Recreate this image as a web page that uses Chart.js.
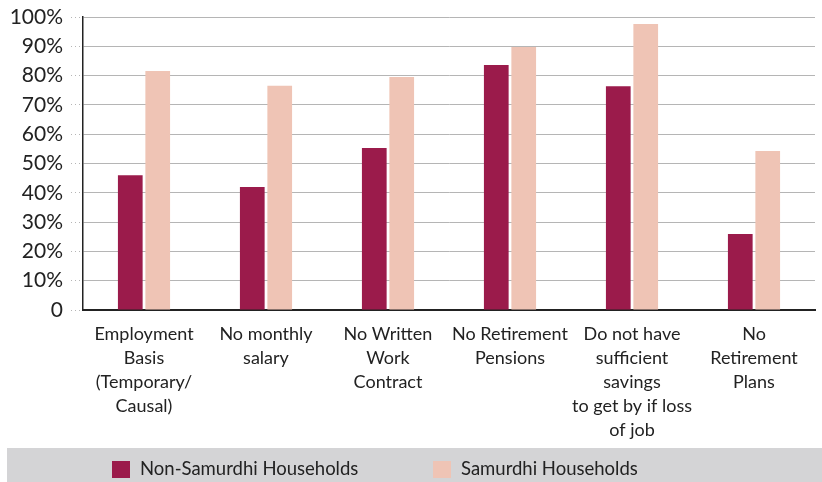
<!DOCTYPE html>
<html>
<head>
<meta charset="utf-8">
<script src="https://cdn.jsdelivr.net/npm/chart.js@4"></script>
<style>
  html, body { margin: 0; padding: 0; background: #fff; }
  #wrap { position: relative; width: 822px; height: 482px; }
</style>
</head>
<body>
<div id="wrap"><canvas id="chart" width="822" height="482"></canvas></div>
<script>
const categories = [
  ['Employment', 'Basis', '(Temporary/', 'Causal)'],
  ['No monthly', 'salary'],
  ['No Written', 'Work', 'Contract'],
  ['No Retirement', 'Pensions'],
  ['Do not have', 'sufficient', 'savings', 'to get by if loss', 'of job'],
  ['No', 'Retirement', 'Plans']
];
const nonSamurdhi = [46, 42, 55.3, 83.6, 76.4, 25.9];
const samurdhi = [81.6, 76.5, 79.5, 89.8, 97.6, 54.3];
const yTicks = [0, 10, 20, 30, 40, 50, 60, 70, 80, 90, 100];

const FONT = 'Lato';
const TEXT = '#222';

// gray band with legend at the bottom
const legendBand = {
  id: 'legendBand',
  afterDraw(chart) {
    const ctx = chart.ctx;
    ctx.save();
    ctx.fillStyle = '#d4d4d6';
    ctx.fillRect(7, 448, 815, 34);
    const starts = [112, 433];
    ctx.font = '18.5px ' + FONT;
    ctx.textBaseline = 'middle';
    chart.data.datasets.forEach((ds, i) => {
      ctx.fillStyle = ds.backgroundColor;
      ctx.fillRect(starts[i], 461, 18, 17);
      ctx.fillStyle = TEXT;
      ctx.fillText(ds.label, starts[i] + 28, 469);
    });
    ctx.restore();
  }
};

new Chart(document.getElementById('chart'), {
  type: 'bar',
  data: {
    labels: categories,
    datasets: [
      { label: 'Non-Samurdhi Households', data: nonSamurdhi, backgroundColor: '#9b1b4b' },
      { label: 'Samurdhi Households', data: samurdhi, backgroundColor: '#efc4b5' }
    ]
  },
  options: {
    responsive: false,
    animation: false,
    events: [],
    layout: { padding: { left: 0, right: 7, top: 17, bottom: 36 } },
    datasets: { bar: { categoryPercentage: 0.45, barPercentage: 0.9 } },
    plugins: { legend: { display: false }, tooltip: { enabled: false } },
    scales: {
      x: {
        grid: { display: false },
        border: { color: '#222', width: 2 },
        ticks: { color: TEXT, font: { family: FONT, size: 18, lineHeight: 1.33 }, padding: 4, maxRotation: 0, autoSkip: false },
        afterFit: s => { s.height = 136; }
      },
      y: {
        min: 0,
        max: 100,
        afterBuildTicks: s => { s.ticks = yTicks.map(v => ({ value: v })); },
        grid: {
          color: '#b5b5b5',
          lineWidth: 1,
          tickLength: 12,
          borderDash: [1, 3],
          tickBorderDash: [1, 3],
          tickColor: '#b5b5b5'
        },
        border: { color: '#222', width: 1.5 },
        ticks: {
          color: TEXT,
          font: { family: FONT, size: 21 },
          padding: 8,
          callback: v => v === 0 ? '0' : v + '%'
        },
        afterFit: s => { s.width = 83; s.paddingTop = 0; s.paddingBottom = 0; }
      }
    }
  },
  plugins: [legendBand]
});
</script>
</body>
</html>
